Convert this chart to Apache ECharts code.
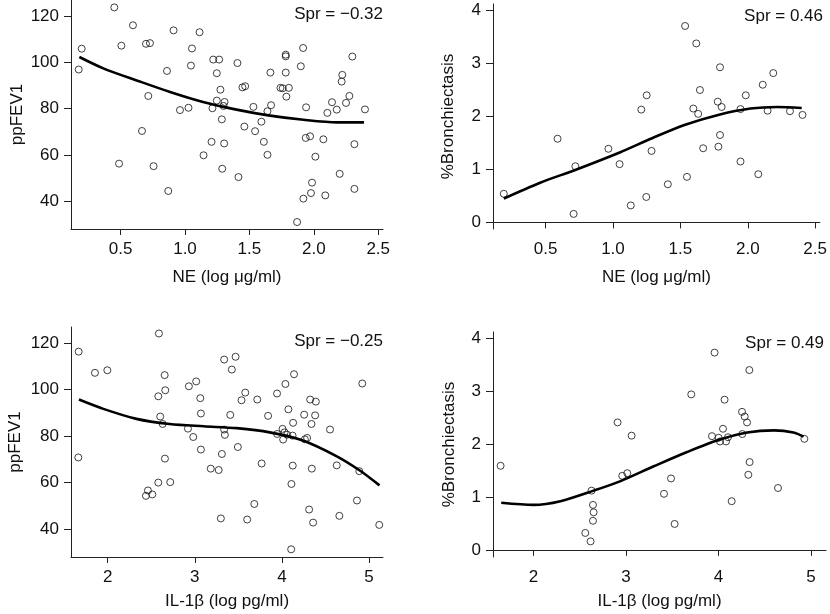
<!DOCTYPE html>
<html>
<head>
<meta charset="utf-8">
<script src="https://cdn.jsdelivr.net/npm/echarts@6/dist/echarts.min.js"></script>
<style>html,body{margin:0;padding:0;background:#fff}#c{width:830px;height:614px}</style>
</head>
<body>
<div id="c"></div>
<script>
// ---- Data ----
const xTitles = ['NE (log μg/ml)', 'NE (log μg/ml)', 'IL-1β (log pg/ml)', 'IL-1β (log pg/ml)'];
const yTitles = ['ppFEV1', '%Bronchiectasis', 'ppFEV1', '%Bronchiectasis'];
const sprLabels = ['Spr = −0.32', 'Spr = 0.46', 'Spr = −0.25', 'Spr = 0.49'];

const neTicks = [0.5, 1.0, 1.5, 2.0, 2.5];
const ilTicks = [2, 3, 4, 5];
const fevTicks = [40, 60, 80, 100, 120];
const bronTicks = [0, 1, 2, 3, 4];

// Panel 1: NE vs ppFEV1
const p1x = [0.175,0.198,0.451,0.596,0.506,0.697,0.728,0.911,1.054,1.046,1.113,0.860,0.715,0.961,1.027,0.666,0.488,0.756,0.870,1.144,
  1.219,1.265,1.247,1.407,1.275,1.247,1.307,1.213,1.299,1.286,1.206,1.304,1.289,1.415,1.446,1.467,1.531,1.461,1.544,1.593,
  1.640,1.668,1.663,1.612,1.640,1.782,1.782,1.782,1.741,1.759,1.806,1.787,1.917,1.899,1.940,1.937,1.971,2.012,2.074,1.986,
  1.978,1.919,2.089,1.870,2.105,2.141,2.178,2.221,2.216,2.250,2.276,2.299,2.315,2.315,2.201,2.397];
const p1y = [96.9,105.9,123.7,116.0,107.2,108.0,108.3,113.8,106.0,98.6,113.0,96.3,85.5,79.4,80.4,70.4,56.3,55.2,44.5,59.9,
  101.2,101.2,95.3,99.7,88.2,83.5,82.9,80.2,81.2,75.4,65.7,65.0,54.1,50.5,89.2,89.7,80.8,72.3,70.3,74.4,
  78.9,81.5,95.6,65.7,60.1,103.3,102.6,95.6,89.0,88.8,89.0,85.2,106.2,98.3,80.6,67.4,68.1,59.3,66.8,48.1,
  43.6,41.2,42.6,31.1,78.2,82.8,79.6,94.6,91.7,82.5,85.5,102.5,64.7,45.4,51.9,79.7];
const c1x = [0.18,0.37,0.63,0.89,1.14,1.40,1.66,1.92,2.18,2.39];
const c1y = [102.3,97.3,92.1,87.1,82.9,79.6,77.0,75.2,74.1,74.1];

// Panel 2: NE vs %Bronchiectasis
const p2x = [0.190,0.589,0.721,0.708,0.966,1.049,1.132,1.247,1.286,1.210,1.250,1.407,1.549,1.535,1.618,1.645,1.596,1.632,1.669,1.794,
  1.777,1.806,1.794,1.782,1.946,1.985,1.946,2.078,2.111,2.189,2.147,2.313,2.406];
const p2y = [0.54,1.58,1.06,0.16,1.39,1.10,0.32,0.48,1.35,2.13,2.40,0.72,0.86,3.71,3.38,2.50,2.15,2.05,1.40,2.93,
  2.28,2.18,1.65,1.43,2.14,2.40,1.15,0.91,2.60,2.82,2.11,2.10,2.03];
const c2x = [0.19,0.46,0.72,1.05,1.29,1.53,1.78,2.02,2.22,2.40];
const c2y = [0.45,0.75,0.99,1.32,1.59,1.84,2.03,2.15,2.18,2.16];

// Panel 3: IL-1β vs ppFEV1
const p3x = [1.667,1.663,1.854,1.996,2.588,2.654,2.661,2.581,2.603,2.631,2.657,2.581,2.718,2.462,2.439,2.512,2.932,3.016,2.921,2.982,
  3.063,3.070,3.070,3.337,3.468,3.425,3.579,3.536,3.717,3.407,3.337,3.345,3.494,3.311,3.183,3.274,3.841,3.767,3.683,3.299,
  3.601,3.944,4.040,4.139,4.074,4.128,3.945,4.007,4.030,4.060,4.014,4.122,4.255,4.324,4.389,4.381,4.339,4.263,4.289,4.124,
  4.109,4.343,4.312,4.358,4.106,4.552,4.629,4.659,4.861,4.888,4.922,5.117];
const p3y = [116.3,70.8,107.2,108.3,124.1,106.2,99.7,97.1,88.4,85.2,70.3,60.0,60.2,56.6,54.3,54.9,101.4,103.5,83.2,79.6,
  96.3,89.7,74.2,112.9,114.1,108.6,98.7,95.4,95.7,89.1,82.8,80.5,75.3,72.3,66.0,65.4,88.7,68.2,50.8,44.6,
  44.1,98.3,102.4,106.6,91.5,85.7,80.9,83.1,81.6,80.6,78.5,80.2,89.2,95.7,94.8,88.9,85.2,78.6,79.2,67.3,
  59.4,66.0,48.4,42.8,31.3,82.8,67.4,45.7,52.3,64.9,102.6,41.8];
const c3x = [1.67,1.95,2.33,2.71,3.10,3.48,3.86,4.24,4.63,4.89,5.12];
const c3y = [95.7,91.7,87.4,85.2,84.2,83.4,81.6,78.1,71.3,65.3,58.8];

// Panel 4: IL-1β vs %Bronchiectasis
const p4x = [1.643,2.908,3.060,2.959,3.013,2.627,2.642,2.649,2.642,2.559,2.616,3.486,3.410,3.525,3.705,3.957,4.065,3.929,4.001,4.016,
  4.048,4.081,4.102,4.254,4.283,4.308,4.257,4.333,4.336,4.322,4.142,4.643,4.928];
const p4y = [1.59,2.41,2.16,1.40,1.45,1.12,0.85,0.71,0.55,0.32,0.16,1.35,1.06,0.49,2.94,3.73,2.84,2.15,2.12,2.05,
  2.29,2.05,2.13,2.61,2.52,2.41,2.19,3.40,1.66,1.42,0.92,1.17,2.10];
const c4x = [1.65,2.00,2.29,2.65,2.94,3.30,3.66,4.02,4.31,4.60,4.81,4.92];
const c4y = [0.89,0.85,0.92,1.12,1.30,1.58,1.85,2.09,2.22,2.26,2.22,2.14];

// ---- Build chart ----
const FONT = "'Liberation Sans', Arial, Helvetica, sans-serif";
const zip = (a, b) => a.map((v, i) => [v, b[i]]);

const grids = [
  {left: 71, top: 0, width: 312, height: 229},
  {left: 493, top: 4, width: 330, height: 225},
  {left: 71, top: 327, width: 312, height: 230},
  {left: 493, top: 332, width: 333, height: 225}
];
const xRanges = [[0.115, 2.537], [0.11, 2.535], [1.579, 5.16], [1.561, 5.162]];
const yRanges = [[28.1, 126.9], [-0.125, 4.125], [28.0, 126.9], [-0.135, 4.12]];
const xTickSets = [neTicks, neTicks, ilTicks, ilTicks];
const yTickSets = [fevTicks, bronTicks, fevTicks, bronTicks];
const xNameGaps = [40, 40, 36, 36];
const yNameGaps = [45, 36, 47, 35];
const xFmt = [v => v.toFixed(1), v => v.toFixed(1), v => String(v), v => String(v)];

const axisLine = {show: true, lineStyle: {color: '#222', width: 1}};
const txt = {color: '#111', fontFamily: FONT, fontSize: 17};

const xAxis = grids.map((g, i) => ({
  type: 'value', gridIndex: i, min: xRanges[i][0], max: xRanges[i][1],
  name: xTitles[i], nameLocation: 'middle', nameGap: xNameGaps[i], nameTextStyle: txt,
  axisLine: axisLine,
  axisTick: {show: true, length: 6, lineStyle: {color: '#222'}, customValues: xTickSets[i]},
  axisLabel: {margin: 12, customValues: xTickSets[i], formatter: xFmt[i], ...txt},
  splitLine: {show: false}
}));
const yAxis = grids.map((g, i) => ({
  type: 'value', gridIndex: i, min: yRanges[i][0], max: yRanges[i][1],
  name: yTitles[i], nameLocation: 'middle', nameGap: yNameGaps[i], nameRotate: 90, nameTextStyle: txt,
  axisLine: axisLine,
  axisTick: {show: true, length: 7, lineStyle: {color: '#222'}, customValues: yTickSets[i]},
  axisLabel: {margin: 12, customValues: yTickSets[i], ...txt},
  splitLine: {show: false}
}));

const pts = [[p1x, p1y], [p2x, p2y], [p3x, p3y], [p4x, p4y]];
const curves = [[c1x, c1y], [c2x, c2y], [c3x, c3y], [c4x, c4y]];
const series = [];
pts.forEach((p, i) => {
  series.push({
    type: 'scatter', xAxisIndex: i, yAxisIndex: i, data: zip(p[0], p[1]),
    symbol: 'circle', symbolSize: 7,
    itemStyle: {color: 'rgba(0,0,0,0)', borderColor: '#111', borderWidth: 1}
  });
  series.push({
    type: 'line', xAxisIndex: i, yAxisIndex: i, data: zip(curves[i][0], curves[i][1]),
    smooth: 0.3, showSymbol: false, symbol: 'none',
    lineStyle: {color: '#000', width: 2.6}
  });
});

const titlePos = [
  {right: 447, top: 6},
  {right: 7, top: 8},
  {right: 447, top: 333},
  {right: 6, top: 335}
];
const title = sprLabels.map((s, i) => ({
  text: s, ...titlePos[i], padding: 0,
  textStyle: {color: '#111', fontFamily: FONT, fontSize: 17, fontWeight: 'normal'}
}));

const chart = echarts.init(document.getElementById('c'));
chart.setOption({
  animation: false,
  title: title,
  grid: grids,
  xAxis: xAxis,
  yAxis: yAxis,
  series: series
});
</script>
</body>
</html>
